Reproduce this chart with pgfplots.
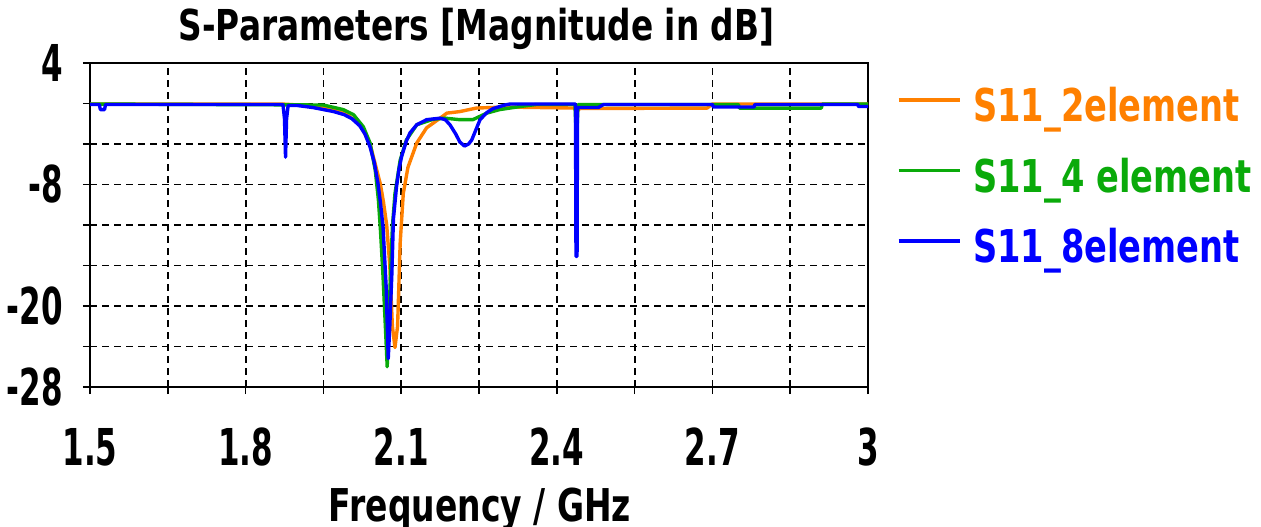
\documentclass[border=0pt]{standalone}
\usepackage{pgfplots}
\pgfplotsset{compat=1.18}
\usepackage{fontspec}
\setmainfont{DejaVu Sans}
\newfontfamily\Ftitle[FakeStretch=0.77]{DejaVu Sans}
\newfontfamily\Flab[FakeStretch=0.73]{DejaVu Sans}
\newfontfamily\Fleg[FakeStretch=0.745]{DejaVu Sans}
\newfontfamily\Ftick[FakeStretch=0.61]{DejaVu Sans}
\definecolor{cOr}{RGB}{255,128,0}
\definecolor{cGr}{RGB}{10,170,10}
\definecolor{cBl}{RGB}{0,0,255}

\pgfplotstableread{
f db
1.500 -0.05
1.870 -0.05
1.950 -0.30
1.990 -0.90
2.020 -2.00
2.040 -4.00
2.053 -6.60
2.060 -8.00
2.066 -9.80
2.072 -12.0
2.078 -16.0
2.083 -22.0
2.088 -24.1
2.093 -22.0
2.095 -18.8
2.098 -13.8
2.104 -8.9
2.113 -6.3
2.130 -3.9
2.149 -2.4
2.175 -1.45
2.188 -0.95
2.213 -0.80
2.245 -0.45
2.300 -0.35
2.435 -0.45
2.438 -1.10
2.442 -0.50
2.690 -0.45
2.700 -0.05
3.000 -0.05
}\orange

\pgfplotstableread{
f db
1.500 -0.05
1.950 -0.15
1.988 -0.60
2.008 -1.10
2.027 -2.30
2.040 -3.90
2.050 -6.60
2.056 -9.50
2.060 -12.5
2.065 -17.1
2.071 -23.7
2.073 -26.0
2.078 -18.8
2.083 -12.2
2.088 -8.9
2.098 -5.6
2.110 -3.6
2.130 -2.1
2.162 -1.55
2.185 -1.45
2.213 -1.60
2.238 -1.60
2.265 -0.95
2.290 -0.60
2.329 -0.30
2.360 -0.10
2.435 -0.10
2.437 -2.60
2.439 -2.60
2.441 -0.10
2.750 -0.10
2.752 -0.45
2.910 -0.45
2.912 -0.05
3.000 -0.05
}\green

\pgfplotstableread{
f db
1.500 -0.10
1.518 -0.10
1.520 -0.60
1.528 -0.60
1.530 -0.10
1.872 -0.10
1.875 -1.50
1.877 -5.30
1.879 -1.50
1.882 -0.20
1.900 -0.20
1.930 -0.40
1.950 -0.60
1.970 -0.80
1.990 -1.10
2.005 -1.50
2.020 -2.20
2.030 -3.00
2.040 -4.30
2.048 -5.80
2.055 -7.80
2.060 -9.80
2.065 -12.2
2.071 -18.1
2.075 -25.2
2.078 -22.0
2.082 -16.8
2.085 -11.4
2.091 -8.2
2.096 -6.4
2.101 -5.2
2.110 -3.7
2.117 -2.9
2.130 -2.1
2.149 -1.6
2.175 -1.45
2.185 -1.6
2.194 -2.1
2.205 -3.0
2.213 -3.8
2.222 -4.2
2.230 -4.0
2.236 -3.6
2.244 -2.6
2.252 -1.6
2.265 -0.9
2.277 -0.5
2.300 -0.15
2.310 -0.05
2.436 -0.05
2.437 -15.1
2.439 -15.1
2.440 -0.40
2.480 -0.40
2.490 -0.10
2.700 -0.10
2.702 -0.35
2.780 -0.35
2.782 -0.10
2.980 -0.10
2.982 -0.30
3.000 -0.30
}\blue

\begin{document}
\begin{tikzpicture}
\path[use as bounding box] (0,0) rectangle (630.5bp,263.5bp);
\begin{axis}[
  at={(45bp,70bp)}, anchor=south west,
  scale only axis, width=389bp, height=162bp,
  xmin=1.5, xmax=3, ymin=-28, ymax=4,
  xtick={1.5,1.65,1.8,1.95,2.1,2.25,2.4,2.55,2.7,2.85,3},
  xticklabels={1.5,,1.8,,2.1,,2.4,,2.7,,3},
  ytick={4,0,-4,-8,-12,-16,-20,-24,-28},
  yticklabels={4,,,-8,,,-20,,-28},
  xtick pos=bottom, ytick pos=left,
  tick align=center, major tick length=7bp,
  tick style={black, line width=0.8bp},
  axis line style={black, line width=1bp},
  grid=major,
  major grid style={black, line width=0.9bp, dash pattern=on 3.5bp off 2.5bp},
  /pgf/number format/assume math mode=true,
  xticklabel style={font=\Ftick\bfseries\fontsize{25.4bp}{25.4bp}\selectfont, anchor=base, inner sep=0pt, yshift=-35.5bp},
  yticklabel style={font=\Ftick\bfseries\fontsize{25.4bp}{25.4bp}\selectfont, anchor=east, inner sep=0pt, xshift=-10bp},
  legend style={at={(axis description cs:1.0373,0.9229)}, anchor=north west,
    draw=none, fill=none, inner sep=0pt, outer sep=0pt,
    font=\Fleg\bfseries\fontsize{22.6bp}{22.6bp}\selectfont,
    nodes={inner sep=0pt, text height=17bp, text depth=4bp},
    column sep=6bp, row sep=14.25bp},
  legend cell align=left,
  legend image code/.code={\draw[#1, line width=1.6bp] (0bp,4.5bp) -- (30.5bp,4.5bp);},
  every axis plot/.append style={line width=1.7bp, line join=round},
]
\addplot[cOr, no markers] table[x=f, y=db] {\orange};
\addlegendentry{\textcolor{cOr}{S11\_2element}}
\addplot[cGr, no markers] table[x=f, y=db] {\green};
\addlegendentry{\textcolor{cGr}{S11\_4 element}}
\addplot[cBl, no markers] table[x=f, y=db] {\blue};
\addlegendentry{\textcolor{cBl}{S11\_8element}}
\end{axis}
\node[anchor=base, inner sep=0pt, font=\Ftitle\bfseries\fontsize{21.3bp}{21.3bp}\selectfont] at (238.25bp,243bp) {S-Parameters [Magnitude in dB]};
\node[anchor=base, inner sep=0pt, font=\Flab\bfseries\fontsize{22.6bp}{22.6bp}\selectfont] at (240bp,2.65bp) {Frequency / GHz};
\end{tikzpicture}
\end{document}
